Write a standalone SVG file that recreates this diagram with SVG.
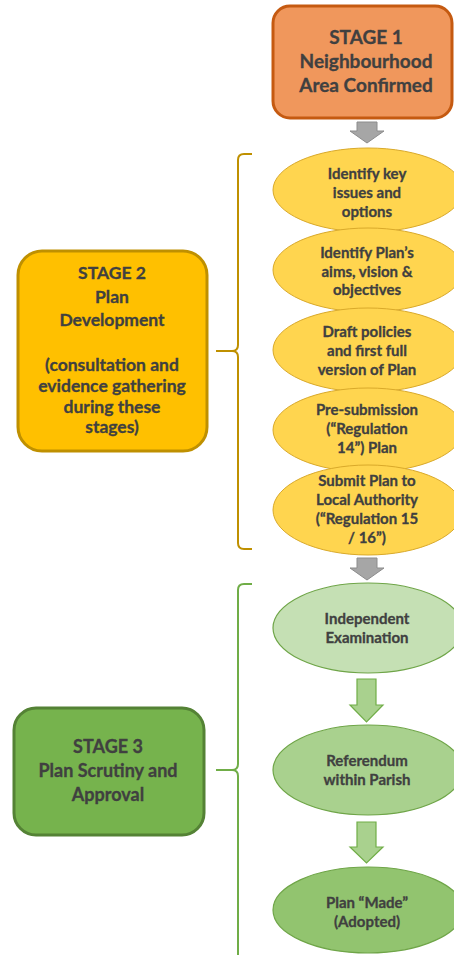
<svg xmlns="http://www.w3.org/2000/svg" width="454" height="955" viewBox="0 0 454 955">
<style>
text{font-family:Lato,"Liberation Sans",sans-serif;font-weight:bold;fill:#404040;stroke:#404040;stroke-width:0.3;text-anchor:middle}
.t1{font-size:19px}
.t2{font-size:17.5px}
.t3{font-size:18px}
.te{font-size:15px}
.ey{fill:#FFD54F;stroke:#D9A92A;stroke-width:1}
.eg{stroke:#6FA548;stroke-width:1.2}
.ga{fill:#A6A6A6;stroke:#8C8C8C;stroke-width:1}
.gr{fill:#A9D18E;stroke:#70AD47;stroke-width:1.2}
</style>
<rect width="454" height="955" fill="#FFFFFF"/>
<g id="connectors">
<path class="ga" d="M357,122 H377 V131 H384 L367,143 L350,131 H357 Z"/>
<path class="ga" d="M357,558 H377 V568 H384 L367,580 L350,568 H357 Z"/>
<path class="gr" d="M357,679 H376 V705 H383 L366.5,722 L350,705 H357 Z"/>
<path class="gr" d="M357,822 H376 V847 H383 L366.5,863 L350,847 H357 Z"/>
<path d="M252,154 H244 Q238,154 238,160 V345 Q238,351 232,351 H216 M232,351 Q238,351 238,357 V543 Q238,549 244,549 H252" fill="none" stroke="#BF9000" stroke-width="2"/>
<path d="M252,584 H244 Q238,584 238,590 V764 Q238,770 232,770 H216 M232,770 Q238,770 238,776 V960" fill="none" stroke="#70AD47" stroke-width="2"/>
</g>
<g id="stage1">
<rect x="273" y="6" width="179" height="112" rx="17" fill="#F0975C" stroke="#C55A11" stroke-width="3"/>
<text class="t1" x="366" y="44">STAGE 1</text>
<text class="t1" x="366" y="68">Neighbourhood</text>
<text class="t1" x="366" y="92">Area Confirmed</text>
</g>
<g id="stage2">
<rect x="18" y="251" width="189" height="200" rx="24" fill="#FFC000" stroke="#BF9000" stroke-width="3"/>
<text class="t2" x="112" y="279">STAGE 2</text>
<text class="t2" x="112" y="303">Plan</text>
<text class="t2" x="112" y="326">Development</text>
<text class="t2" x="112" y="371">(consultation and</text>
<text class="t2" x="112" y="392">evidence gathering</text>
<text class="t2" x="112" y="413">during these</text>
<text class="t2" x="112" y="433">stages)</text>
</g>
<g id="stage3">
<rect x="14" y="708" width="190" height="127" rx="22" fill="#76B34D" stroke="#548235" stroke-width="3"/>
<text class="t3" x="108" y="753">STAGE 3</text>
<text class="t3" x="108" y="777">Plan Scrutiny and</text>
<text class="t3" x="108" y="801">Approval</text>
</g>
<g id="step1">
<ellipse class="ey" cx="368" cy="190" rx="95" ry="42"/>
<text class="te" x="367" y="179">Identify key</text>
<text class="te" x="367" y="198">issues and</text>
<text class="te" x="367" y="217">options</text>
</g>
<g id="step2">
<ellipse class="ey" cx="368" cy="270" rx="95" ry="42"/>
<text class="te" x="367" y="258">Identify Plan’s</text>
<text class="te" x="367" y="277">aims, vision &amp;</text>
<text class="te" x="367" y="295">objectives</text>
</g>
<g id="step3">
<ellipse class="ey" cx="368" cy="350" rx="95" ry="42"/>
<text class="te" x="367" y="337">Draft policies</text>
<text class="te" x="367" y="356">and first full</text>
<text class="te" x="367" y="375">version of Plan</text>
</g>
<g id="step4">
<ellipse class="ey" cx="368" cy="430" rx="95" ry="42"/>
<text class="te" x="367" y="415">Pre-submission</text>
<text class="te" x="367" y="434">(“Regulation</text>
<text class="te" x="367" y="453">14”) Plan</text>
</g>
<g id="step5">
<ellipse class="ey" cx="368" cy="510" rx="95" ry="45"/>
<text class="te" x="367" y="486">Submit Plan to</text>
<text class="te" x="367" y="505">Local Authority</text>
<text class="te" x="367" y="524">(“Regulation 15</text>
<text class="te" x="367" y="543">/ 16”)</text>
</g>
<g id="exam">
<ellipse class="eg" cx="368" cy="628" rx="95" ry="45" fill="#C5E0B4"/>
<text class="te" x="367" y="624">Independent</text>
<text class="te" x="367" y="643">Examination</text>
</g>
<g id="referendum">
<ellipse class="eg" cx="368" cy="770" rx="95" ry="45" fill="#A9D18E"/>
<text class="te" x="367" y="766">Referendum</text>
<text class="te" x="367" y="785">within Parish</text>
</g>
<g id="made">
<ellipse class="eg" cx="368" cy="910" rx="95" ry="43" fill="#92C46F"/>
<text class="te" x="367" y="908">Plan “Made”</text>
<text class="te" x="367" y="927">(Adopted)</text>
</g>
</svg>
